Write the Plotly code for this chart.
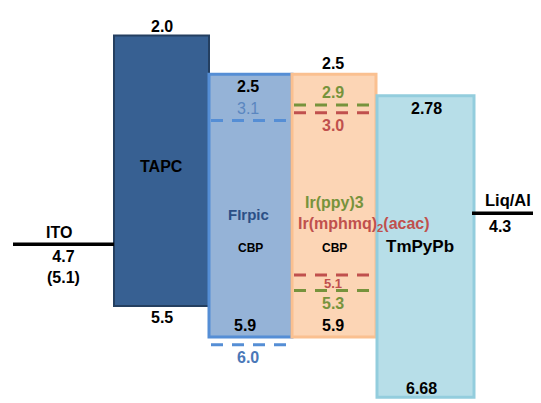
import plotly.graph_objects as go

# ---------------- data (energies in eV) ----------------
layers = ["TAPC", "FIrpic:CBP", "Ir:CBP", "TmPyPb"]
lumo = [2.0, 2.5, 2.5, 2.78]
homo = [5.5, 5.9, 5.9, 6.68]

dopants = ["FIrpic", "Ir(ppy)3", "Ir(mphmq)2(acac)"]
dopant_lumo = [3.1, 2.9, 3.0]
dopant_homo = [6.0, 5.3, 5.1]

electrodes = ["ITO", "Liq/Al"]
electrode_wf = [4.7, 4.3]
ito_alt_wf = 5.1

# ---------------- layout / style (pixels on the page x-axis) ----------------
layer_left = [114, 209, 292, 377]
layer_right = [209, 292, 376, 474]
fills = ["#376092", "#95B3D7", "#FCD5B5", "#B7DEE8"]
borders = ["#243F60", "#558ED5", "#FAC090", "#93CDDD"]
border_w = [2, 3, 3, 3]
dopant_host = [1, 2, 2]
dopant_colors = ["#558ED5", "#77933C", "#C0504D"]
electrode_span = [(13, 114), (472, 541)]
FONT = "Liberation Sans"
PAGE_OFFSET = 8  # default body margin of the html page

centers = [(l + r) / 2 for l, r in zip(layer_left, layer_right)]
widths = [r - l for l, r in zip(layer_left, layer_right)]

fig = go.Figure()
fig.add_trace(go.Bar(
    x=centers, base=lumo, y=[h - l for h, l in zip(homo, lumo)], width=widths,
    marker=dict(color=fills, line=dict(color=borders, width=border_w)),
    hoverinfo="skip", showlegend=False,
))

# dopant dashed levels
for i, host in enumerate(dopant_host):
    x0, x1 = layer_left[host] + 2, layer_right[host]
    for e in (dopant_lumo[i], dopant_homo[i]):
        fig.add_trace(go.Scatter(
            x=[x0, x1], y=[e, e], mode="lines",
            line=dict(color=dopant_colors[i], width=3, dash="12px,9px"),
            hoverinfo="skip", showlegend=False,
        ))

# electrodes
for (x0, x1), e in zip(electrode_span, electrode_wf):
    fig.add_trace(go.Scatter(
        x=[x0, x1], y=[e, e], mode="lines",
        line=dict(color="black", width=3.5),
        hoverinfo="skip", showlegend=False,
    ))

ann = []


def label(x, y, text, color="black", size=16, ya="middle", ys=0, xa="center", bold=True):
    ann.append(dict(
        x=x, y=y, xref="x", yref="y", text=f"<b>{text}</b>" if bold else text,
        showarrow=False, xanchor=xa, yanchor=ya, yshift=ys,
        font=dict(family=FONT, size=size, color=color),
    ))


# TAPC
label(centers[0], lumo[0], f"{lumo[0]:.1f}", ya="bottom", ys=-1)
label(centers[0], homo[0], f"{homo[0]:.1f}", ya="top", ys=-1)
label(centers[0], (lumo[0] + homo[0]) / 2, layers[0], ys=4)

# FIrpic:CBP
mid1 = (lumo[1] + homo[1]) / 2
label(248, lumo[1], f"{lumo[1]:.1f}", ya="top", ys=-2)
label(245, homo[1], f"{homo[1]:.1f}", ya="bottom", ys=1)
label(248, dopant_lumo[0], f"{dopant_lumo[0]:.1f}", color="#5A86C0", ya="bottom", ys=2, bold=False)
label(248, dopant_homo[0], f"{dopant_homo[0]:.1f}", color="#4A78B8", ya="top", ys=-2)
label(248, mid1, dopants[0], color="#2B4F86", size=15, ys=-9)
label(250, mid1, "CBP", size=12, ys=-42)

# Ir:CBP
mid2 = (lumo[2] + homo[2]) / 2
label(333, lumo[2], f"{lumo[2]:.1f}", ya="bottom", ys=0)
label(333, homo[2], f"{homo[2]:.1f}", ya="bottom", ys=1)
label(333, dopant_lumo[1], f"{dopant_lumo[1]:.1f}", color=dopant_colors[1], ya="bottom", ys=2)
label(333, dopant_lumo[2], f"{dopant_lumo[2]:.1f}", color=dopant_colors[2], ya="top", ys=-2)
label(333, (dopant_homo[1] + dopant_homo[2]) / 2, f"{dopant_homo[2]:.1f}",
      color=dopant_colors[2], size=13, ys=-1)
label(333, dopant_homo[1], f"{dopant_homo[1]:.1f}", color=dopant_colors[1], ya="top", ys=-2)
label(334, mid2, "Ir(ppy)3", color=dopant_colors[1], ys=3)
label(296, mid2, "Ir(mphmq)<sub>2</sub>(acac)", color=dopant_colors[2], xa="left", ys=-19)
label(334, mid2, "CBP", size=12, ys=-42)

# TmPyPb
label(426, lumo[3], f"{lumo[3]:.2f}", ya="top", ys=-2)
label(421, homo[3], f"{homo[3]:.2f}", ya="bottom", ys=-2)
label(420, (lumo[3] + homo[3]) / 2, layers[3], size=17)

# electrodes
label(59, electrode_wf[0], electrodes[0], ya="bottom", ys=1)
label(45, electrode_wf[0], f"{electrode_wf[0]:.1f}<br>({ito_alt_wf:.1f})", xa="left", ya="top", ys=-2)
label(508, electrode_wf[1], electrodes[1], size=16.5, ya="bottom", ys=2)
label(500, electrode_wf[1], f"{electrode_wf[1]:.1f}", ya="top", ys=-3)

# energy -> pixel mapping: E=2.0 at y=35.5 px, 77.29 px per eV
px_per_ev = 77.29
y_top = 2.0 + (PAGE_OFFSET - 35.5) / px_per_ev
y_bot = 2.0 + (403 - 35.5) / px_per_ev

fig.update_layout(
    width=541 - PAGE_OFFSET, height=403 - PAGE_OFFSET, margin=dict(l=0, r=0, t=0, b=0),
    paper_bgcolor="white", plot_bgcolor="white",
    barmode="overlay", annotations=ann,
    xaxis=dict(range=[PAGE_OFFSET, 541], visible=False, fixedrange=True),
    yaxis=dict(range=[y_bot, y_top], visible=False, fixedrange=True),
    font=dict(family=FONT),
)

fig.write_html("out.html")
